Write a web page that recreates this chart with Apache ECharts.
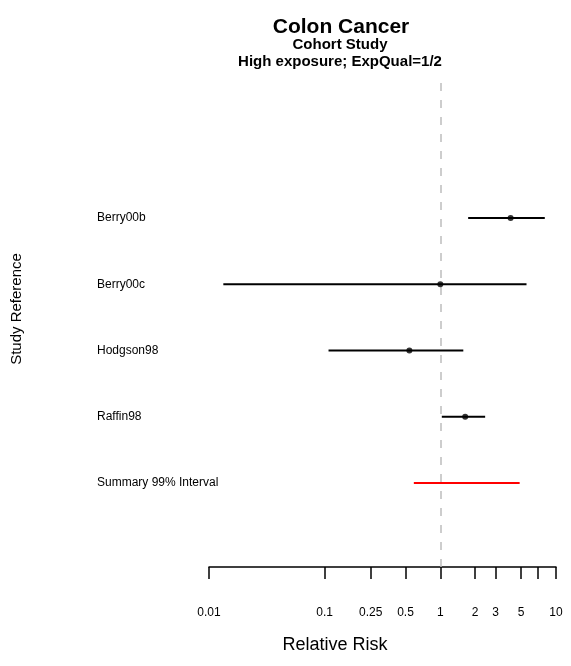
<!DOCTYPE html>
<html>
<head>
<meta charset="utf-8">
<script src="https://cdn.jsdelivr.net/npm/echarts@6/dist/echarts.min.js"></script>
<style>html,body{margin:0;padding:0;background:#fff;}#c{width:571px;height:666px;}</style>
</head>
<body>
<div id="c"></div>
<script>
const rowLabels = ['Berry00b', 'Berry00c', 'Hodgson98', 'Raffin98', 'Summary 99% Interval'];
const rowPos = [5, 4, 3, 2, 1];
const estimates = [4.05, 1.0, 0.54, 1.64, null];
const lower = [1.74, 0.0133, 0.108, 1.03, 0.59];
const upper = [8.0, 5.56, 1.58, 2.44, 4.85];
const tickValues = [0.01, 0.1, 0.25, 0.5, 1, 2, 3, 5, 7, 10];
const tickLabels = ['0.01', '0.1', '0.25', '0.5', '1', '2', '3', '5', '', '10'];

const FONT = 'Liberation Sans, Arial, Helvetica, sans-serif';
const lg = v => Math.log10(v);
const logTicks = tickValues.map(lg);

const chart = echarts.init(document.getElementById('c'), null, {renderer: 'canvas'});

const intervalData = rowLabels.map((n, i) => [lg(lower[i]), lg(upper[i]), rowPos[i], i]);
const pointData = [];
estimates.forEach((e, i) => { if (e != null) pointData.push([lg(e), rowPos[i]]); });

chart.setOption({
  animation: false,
  backgroundColor: '#fff',
  title: [
    {text: 'Colon Cancer', left: 336, top: 12, textAlign: 'center',
     textStyle: {fontFamily: FONT, fontSize: 21, fontWeight: 'bold', color: '#000'}},
    {text: 'Cohort Study', left: 335, top: 32, textAlign: 'center',
     textStyle: {fontFamily: FONT, fontSize: 15, fontWeight: 'bold', color: '#000'}},
    {text: 'High exposure; ExpQual=1/2', left: 335, top: 49, textAlign: 'center',
     textStyle: {fontFamily: FONT, fontSize: 15, fontWeight: 'bold', color: '#000'}}
  ],
  grid: {left: 209, right: 15, top: 75, bottom: 99},
  xAxis: {
    type: 'value', min: -2, max: 1,
    axisLine: {show: true, onZero: false, lineStyle: {color: '#000', width: 1.5}},
    axisTick: {show: true, customValues: logTicks, length: 12, lineStyle: {color: '#000', width: 1.5}},
    axisLabel: {
      show: true, customValues: logTicks, margin: 40,
      fontFamily: FONT, fontSize: 12, color: '#000',
      formatter: v => {
        let best = 0, d = Infinity;
        logTicks.forEach((t, i) => { const dd = Math.abs(t - v); if (dd < d) { d = dd; best = i; } });
        return tickLabels[best];
      }
    },
    splitLine: {show: false}
  },
  yAxis: {
    type: 'value', min: -0.268, max: 7.158,
    axisLine: {show: false}, axisTick: {show: false}, splitLine: {show: false},
    axisLabel: {
      show: true, customValues: rowPos, align: 'left', margin: 112,
      fontFamily: FONT, fontSize: 12, color: '#000',
      formatter: v => { const i = rowPos.indexOf(Math.round(v)); return i >= 0 ? rowLabels[i] : ''; }
    }
  },
  graphic: [
    {type: 'text', x: 17, y: 309, rotation: Math.PI / 2,
     style: {text: 'Study Reference', fontFamily: FONT, fontSize: 15, fill: '#000', align: 'center', verticalAlign: 'middle'}},
    {type: 'text', x: 335, y: 645,
     style: {text: 'Relative Risk', fontFamily: FONT, fontSize: 18, fill: '#000', align: 'center', verticalAlign: 'middle'}}
  ],
  series: [
    {
      type: 'line', data: [], silent: true, z: 1,
      markLine: {
        silent: true, symbol: 'none', label: {show: false}, z: 1,
        lineStyle: {color: '#bdbdbd', type: [8, 9], width: 1.5},
        data: [{xAxis: lg(1)}]
      }
    },
    {
      type: 'custom', clip: false, silent: true, z: 5,
      data: intervalData,
      renderItem: (params, api) => {
        const y = api.value(2);
        const p1 = api.coord([api.value(0), y]);
        const p2 = api.coord([api.value(1), y]);
        const idx = api.value(3);
        return {type: 'line', shape: {x1: p1[0], y1: p1[1], x2: p2[0], y2: p2[1]},
                style: {stroke: idx === 4 ? '#ff0000' : '#000', lineWidth: 2}};
      }
    },
    {
      type: 'scatter', data: pointData, symbol: 'circle', symbolSize: 6, z: 10,
      itemStyle: {color: '#000'}, silent: true
    }
  ]
});
</script>
</body>
</html>
